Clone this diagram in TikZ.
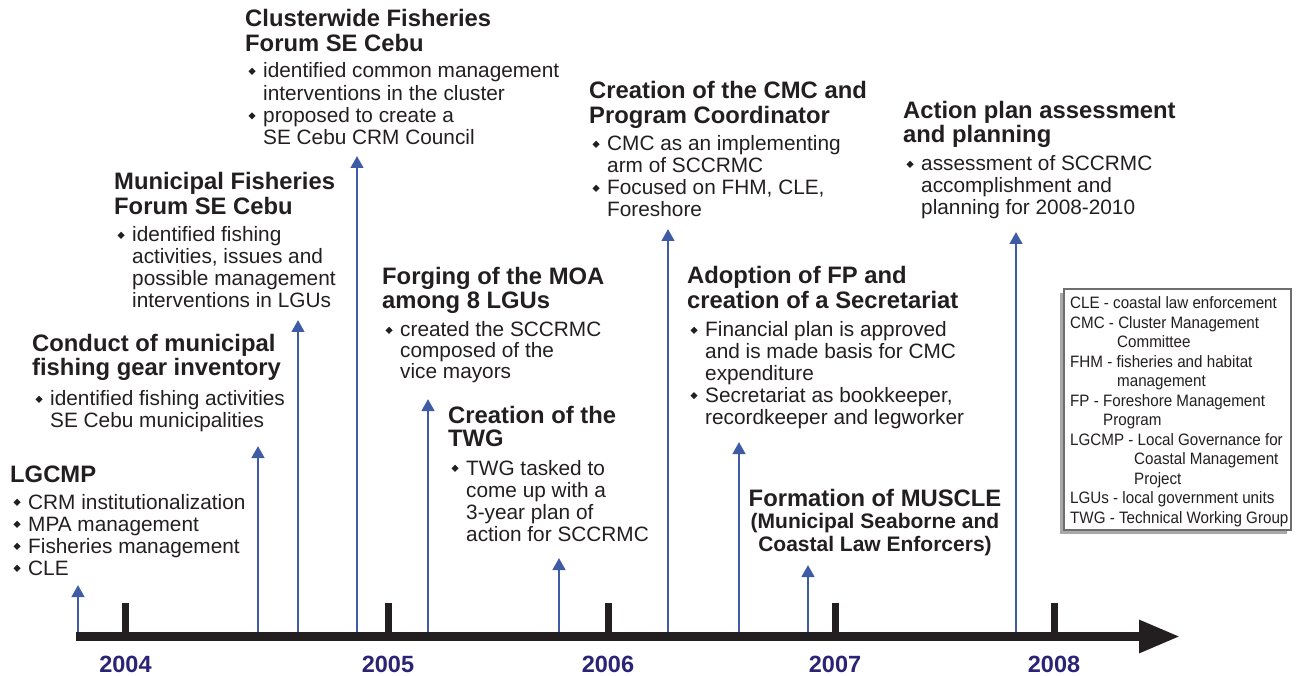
\documentclass[tikz,border=0pt]{standalone}
\usepackage{fontspec}
\setmainfont{Liberation Sans}
\newfontfamily\legfont[FakeStretch=0.92]{Liberation Sans}
\usepackage{graphicx}
\usetikzlibrary{arrows.meta}
\definecolor{ink}{HTML}{231F20}
\definecolor{arrowblue}{HTML}{3F5BA5}
\definecolor{yearblue}{HTML}{2B2375}
\definecolor{leggray}{HTML}{6E6E6E}
\definecolor{shadowgray}{HTML}{A8A8A8}
\newcommand\bul{\raisebox{3.2pt}{\rotatebox{45}{\rule{5pt}{5pt}}}}
\newcommand\bi[1]{\hbox{\makebox[18pt][l]{\hspace*{3.3pt}\bul}#1}}
\newcommand\bc[1]{\hbox{\hspace*{18pt}#1}}
\newcommand\lstack[2]{\vtop{\baselineskip=#1pt\lineskiplimit=-\maxdimen\lineskip=0pt #2}}
\tikzset{
  ttl/.style={inner sep=0pt, anchor=base west, text=ink, font=\fontsize{23.8}{24}\selectfont\bfseries},
  bl/.style={inner sep=0pt, anchor=base west, text=ink, font=\fontsize{20.8}{21}\selectfont},
  yr/.style={inner sep=0pt, anchor=base, text=yearblue, font=\fontsize{23.5}{24}\selectfont\bfseries},
  legtext/.style={inner sep=0pt, anchor=base west, text=ink, font=\legfont\fontsize{16.5}{19.5}\selectfont},
  evt/.style={draw=arrowblue, line width=2.7pt, -{Triangle[width=12.5pt,length=12pt]}},
  yeartick/.style={draw=ink, line width=7pt},
  axisbar/.style={draw=ink, line width=9pt, -{Triangle[width=31pt,length=41pt]}}
}
\begin{document}
\begin{tikzpicture}[x=1pt,y=-1pt]
\useasboundingbox (0,0) rectangle (1299,676);
\fill[white] (0,0) rectangle (1299,676);

% ---------- event arrows ----------
\foreach \n/\x/\y in {1/78/585, 2/258/446, 3/298/320, 4/357/156, 5/428/399,
                      6/559/558, 7/668/229, 8/739/442, 9/808/565, 10/1016/232}{
  \coordinate (b\n) at (\x,636);
  \coordinate (a\n) at (\x,\y);
  \draw[evt] (b\n) -- (a\n);
}

% ---------- axis ----------
\coordinate (axs) at (76,636.5);
\coordinate (axe) at (1180,636.5);
\draw[axisbar] (axs) -- (axe);
\foreach \n/\x/\yl in {1/125.5/2004, 2/388/2005, 3/608/2006, 4/835/2007, 5/1054/2008}{
  \coordinate (k\n) at (\x,603);
  \coordinate (kb\n) at (\x,636);
  \draw[yeartick] (k\n) -- (kb\n);
  \node[yr] (y\n) at (\x,672) {\yl};
}

% ---------- 1 LGCMP ----------
\node[ttl] (t1) at (10,482) {LGCMP};
\node[bl] (l1) at (10,509) {\lstack{22}{\bi{CRM institutionalization}\bi{MPA management}\bi{Fisheries management}\bi{CLE}}};

% ---------- 2 Conduct ----------
\node[ttl] (t2) at (32,352) {\lstack{23.5}{\hbox{Conduct of municipal}\hbox{fishing gear inventory}}};
\node[bl] (l2) at (32,406) {\lstack{21.5}{\bi{identified fishing activities}\bc{SE Cebu municipalities}}};

% ---------- 3 Municipal ----------
\node[ttl] (t3) at (114,190) {\lstack{24.5}{\hbox{Municipal Fisheries}\hbox{Forum SE Cebu}}};
\node[bl] (l3) at (114,242) {\lstack{21.7}{\bi{identified fishing}\bc{activities, issues and}\bc{possible management}\bc{interventions in LGUs}}};

% ---------- 4 Clusterwide ----------
\node[ttl] (t4) at (245,27) {\lstack{24.8}{\hbox{Clusterwide Fisheries}\hbox{Forum SE Cebu}}};
\node[bl] (l4) at (245,78) {\lstack{22.3}{\bi{identified common management}\bc{interventions in the cluster}\bi{proposed to create a}\bc{SE Cebu CRM Council}}};

% ---------- 5 Forging ----------
\node[ttl] (t5) at (382,285) {\lstack{24}{\hbox{Forging of the MOA}\hbox{among 8 LGUs}}};
\node[bl] (l5) at (382,337) {\lstack{20.7}{\bi{created the SCCRMC}\bc{composed of the}\bc{vice mayors}}};

% ---------- 6 TWG ----------
\node[ttl] (t6) at (448,423) {\lstack{24}{\hbox{Creation of the}\hbox{TWG}}};
\node[bl] (l6) at (448,475) {\lstack{22.3}{\bi{TWG tasked to}\bc{come up with a}\bc{3-year plan of}\bc{action for SCCRMC}}};

% ---------- 7 CMC ----------
\node[ttl] (t7) at (589,99) {\lstack{24.8}{\hbox{Creation of the CMC and}\hbox{Program Coordinator}}};
\node[bl] (l7) at (589,151) {\lstack{22}{\bi{CMC as an implementing}\bc{arm of SCCRMC}\bi{Focused on FHM, CLE,}\bc{Foreshore}}};

% ---------- 8 Adoption ----------
\node[ttl] (t8) at (687,284) {\lstack{24.8}{\hbox{Adoption of FP and}\hbox{creation of a Secretariat}}};
\node[bl] (l8) at (687,337) {\lstack{21.8}{\bi{Financial plan is approved}\bc{and is made basis for CMC}\bc{expenditure}\bi{Secretariat as bookkeeper,}\bc{recordkeeper and legworker}}};

% ---------- 9 MUSCLE ----------
\node[inner sep=0pt, anchor=base, text=ink, font=\bfseries] (t9) at (875,506)
  {\lstack{22.6}{\hbox to 270pt{\hss\fontsize{23.8}{24}\selectfont Formation of MUSCLE\hss}%
   \hbox to 270pt{\hss\fontsize{21}{22}\selectfont (Municipal Seaborne and\hss}%
   \hbox to 270pt{\hss\fontsize{21}{22}\selectfont Coastal Law Enforcers)\hss}}};

% ---------- 10 Action ----------
\node[ttl] (t10) at (903,119) {\lstack{24}{\hbox{Action plan assessment}\hbox{and planning}}};
\node[bl] (l10) at (903,171) {\lstack{22}{\bi{assessment of SCCRMC}\bc{accomplishment and}\bc{planning for 2008-2010}}};

% ---------- legend ----------
\fill[shadowgray] (1060,293) rectangle (1287,534);
\draw[draw=leggray, fill=white, line width=1.2pt] (1064,289) rectangle (1291,530);
\node[legtext] (leg) at (1070,309) {\lstack{19.5}{%
  \hbox{CLE - coastal law enforcement}%
  \hbox{CMC - Cluster Management}%
  \hbox{\hspace*{47pt}Committee}%
  \hbox{FHM - fisheries and habitat}%
  \hbox{\hspace*{47pt}management}%
  \hbox{FP - Foreshore Management}%
  \hbox{\hspace*{33pt}Program}%
  \hbox{LGCMP - Local Governance for}%
  \hbox{\hspace*{64pt}Coastal Management}%
  \hbox{\hspace*{64pt}Project}%
  \hbox{LGUs - local government units}%
  \hbox{TWG - Technical Working Group}}};
\end{tikzpicture}
\end{document}
